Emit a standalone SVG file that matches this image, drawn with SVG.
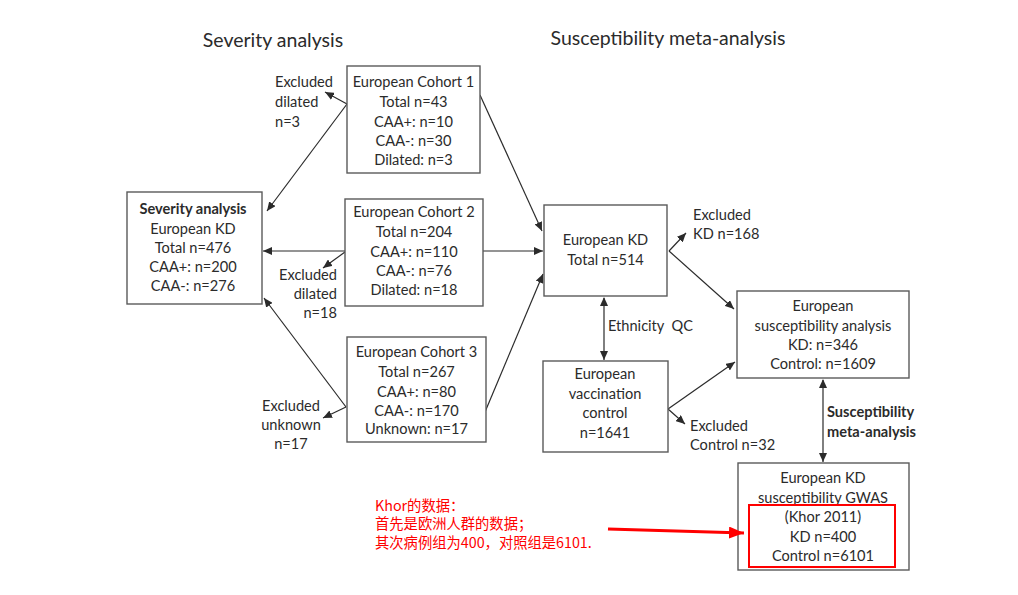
<svg xmlns="http://www.w3.org/2000/svg" width="1018" height="595" viewBox="0 0 1018 595">
<style>
text{font-family:Lato,"Liberation Sans",sans-serif;font-size:14.6px;fill:#2b2b2b}
.t{font-size:19.5px}
.b{font-weight:bold}
.c{text-anchor:middle}
.box{fill:#fff;stroke:#5a5a5a;stroke-width:1.4}
.ln{fill:none;stroke:#2b2b2b;stroke-width:1.2}
.red{font-family:"Noto Sans CJK SC","Noto Sans",sans-serif;font-size:14.3px;fill:#ff0000}
</style>
<defs>
<marker id="ah" markerUnits="userSpaceOnUse" markerWidth="10" markerHeight="8" refX="9" refY="4" orient="auto">
<path d="M0,0 L9,4 L0,8 z" fill="#2b2b2b"/>
</marker>
<marker id="as" markerUnits="userSpaceOnUse" markerWidth="10" markerHeight="8" refX="1" refY="4" orient="auto">
<path d="M9,0 L0,4 L9,8 z" fill="#2b2b2b"/>
</marker>
<marker id="rh" markerUnits="userSpaceOnUse" markerWidth="16" markerHeight="12" refX="15" refY="6" orient="auto">
<path d="M0,0 L15,6 L0,12 z" fill="#ff0000"/>
</marker>
</defs>
<rect width="1018" height="595" fill="#fff"/>

<text class="t c" x="273" y="47">Severity analysis</text>
<text class="t c" x="668" y="45">Susceptibility meta-analysis</text>

<g id="connectors">
<line class="ln" x1="347" y1="104" x2="325" y2="92" marker-end="url(#ah)"/>
<line class="ln" x1="347" y1="104" x2="267" y2="211" marker-end="url(#ah)"/>
<line class="ln" x1="480" y1="95" x2="542" y2="231" marker-end="url(#ah)"/>
<line class="ln" x1="345" y1="251" x2="263" y2="251" marker-end="url(#ah)"/>
<line class="ln" x1="345" y1="252" x2="323" y2="268" marker-end="url(#ah)"/>
<line class="ln" x1="483" y1="251" x2="543" y2="251" marker-end="url(#ah)"/>
<line class="ln" x1="346" y1="407" x2="264" y2="298" marker-end="url(#ah)"/>
<line class="ln" x1="346" y1="407" x2="323" y2="418" marker-end="url(#ah)"/>
<line class="ln" x1="485" y1="412" x2="543" y2="274" marker-end="url(#ah)"/>
<line class="ln" x1="669" y1="251" x2="686" y2="233" marker-end="url(#ah)"/>
<line class="ln" x1="669" y1="251" x2="734" y2="309" marker-end="url(#ah)"/>
<line class="ln" x1="604" y1="298" x2="604" y2="360" marker-start="url(#as)" marker-end="url(#ah)"/>
<line class="ln" x1="668" y1="409" x2="735" y2="362" marker-end="url(#ah)"/>
<line class="ln" x1="668" y1="409" x2="685" y2="424" marker-end="url(#ah)"/>
<line class="ln" x1="823" y1="380" x2="823" y2="462" marker-start="url(#as)" marker-end="url(#ah)"/>
</g>

<g id="excl1">
<text x="275" y="87">Excluded</text>
<text x="275" y="107">dilated</text>
<text x="275" y="127">n=3</text>
</g>
<g id="cohort1">
<rect class="box" x="347" y="66" width="133" height="107"/>
<text class="c" x="413.5" y="87">European Cohort 1</text>
<text class="c" x="413.5" y="107">Total n=43</text>
<text class="c" x="413.5" y="127">CAA+: n=10</text>
<text class="c" x="413.5" y="146">CAA-: n=30</text>
<text class="c" x="413.5" y="165">Dilated: n=3</text>
</g>
<g id="severity">
<rect class="box" x="127" y="192" width="135" height="112"/>
<text class="c b" x="193" y="214">Severity analysis</text>
<text class="c" x="193" y="234">European KD</text>
<text class="c" x="193" y="253">Total n=476</text>
<text class="c" x="193" y="272">CAA+: n=200</text>
<text class="c" x="193" y="291">CAA-: n=276</text>
</g>
<g id="cohort2">
<rect class="box" x="345" y="199" width="138" height="107"/>
<text class="c" x="414" y="217">European Cohort 2</text>
<text class="c" x="414" y="237">Total n=204</text>
<text class="c" x="414" y="257">CAA+: n=110</text>
<text class="c" x="414" y="276">CAA-: n=76</text>
<text class="c" x="414" y="295">Dilated: n=18</text>
</g>
<g id="excl2">
<text x="337" y="280" text-anchor="end">Excluded</text>
<text x="337" y="299" text-anchor="end">dilated</text>
<text x="337" y="318" text-anchor="end">n=18</text>
</g>
<g id="cohort3">
<rect class="box" x="347" y="337" width="139" height="105"/>
<text class="c" x="416.5" y="357">European Cohort 3</text>
<text class="c" x="416.5" y="377">Total n=267</text>
<text class="c" x="416.5" y="397">CAA+: n=80</text>
<text class="c" x="416.5" y="416">CAA-: n=170</text>
<text class="c" x="416.5" y="434">Unknown: n=17</text>
</g>
<g id="excl3">
<text class="c" x="291" y="411">Excluded</text>
<text class="c" x="291" y="430">unknown</text>
<text class="c" x="291" y="449">n=17</text>
</g>
<g id="eurkd">
<rect class="box" x="544" y="205" width="123" height="91"/>
<text class="c" x="605.5" y="245">European KD</text>
<text class="c" x="605.5" y="265">Total n=514</text>
</g>
<g id="exclkd">
<text x="693" y="220">Excluded</text>
<text x="693" y="239">KD n=168</text>
</g>
<g id="ethqc">
<text x="608" y="331" xml:space="preserve">Ethnicity  QC</text>
</g>
<g id="vacc">
<rect class="box" x="543" y="361" width="125" height="91"/>
<text class="c" x="605" y="379">European</text>
<text class="c" x="605" y="399">vaccination</text>
<text class="c" x="605" y="418">control</text>
<text class="c" x="605" y="438">n=1641</text>
</g>
<g id="exclctrl">
<text x="690" y="431">Excluded</text>
<text x="690" y="450">Control n=32</text>
</g>
<g id="susc">
<rect class="box" x="737" y="291" width="172" height="87"/>
<text class="c" x="823" y="311">European</text>
<text class="c" x="823" y="331">susceptibility analysis</text>
<text class="c" x="823" y="350">KD: n=346</text>
<text class="c" x="823" y="369">Control: n=1609</text>
</g>
<g id="meta">
<text class="b" x="827" y="417">Susceptibility</text>
<text class="b" x="827" y="437">meta-analysis</text>
</g>
<g id="gwas">
<rect class="box" x="738" y="463" width="171" height="107"/>
<text class="c" x="823" y="483">European KD</text>
<text class="c" x="823" y="503">susceptibility GWAS</text>
<text class="c" x="823" y="522">(Khor 2011)</text>
<text class="c" x="823" y="542">KD n=400</text>
<text class="c" x="823" y="561">Control n=6101</text>
<rect x="749" y="505" width="146" height="62" fill="none" stroke="#ff0000" stroke-width="2"/>
</g>
<g id="note">
<text class="red" x="375" y="511">Khor的数据：</text>
<text class="red" x="375" y="529">首先是欧洲人群的数据；</text>
<text class="red" x="375" y="548">其次病例组为400，对照组是6101.</text>
<line x1="608" y1="529" x2="744" y2="533" stroke="#ff0000" stroke-width="3" marker-end="url(#rh)"/>
</g>
</svg>
